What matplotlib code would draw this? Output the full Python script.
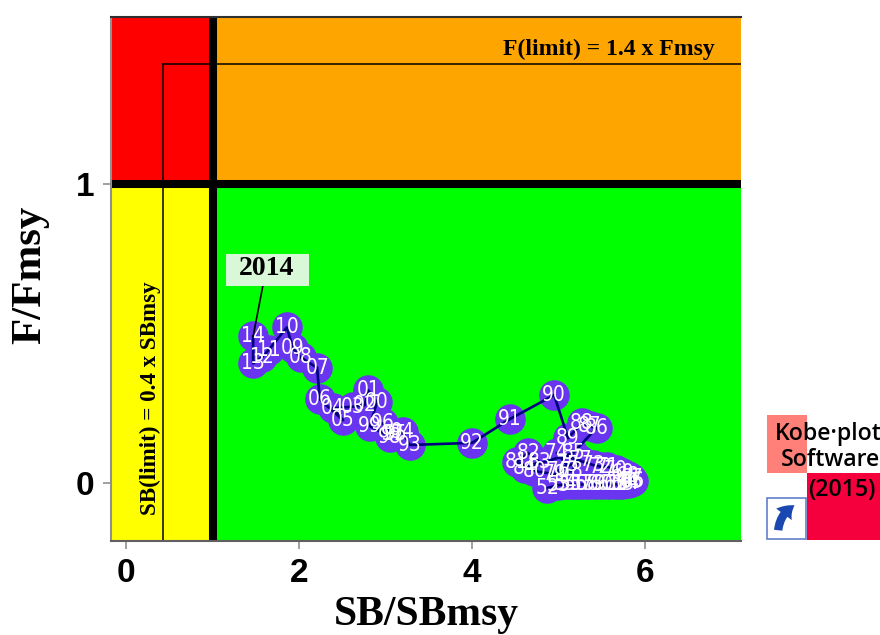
import matplotlib
matplotlib.use("Agg")
import matplotlib.pyplot as plt
from matplotlib.patches import Rectangle, FancyArrowPatch

# stock status by year, 1952-2014
years = list(range(1952, 2015))
sb_ratio = [4.87, 5.00, 5.08, 5.14, 5.20, 5.27, 5.34, 5.42, 5.50, 5.58, 5.66,
            5.74, 5.80, 5.84, 5.86, 5.84, 5.80, 5.74, 5.66, 5.56, 5.48, 5.40,
            4.98, 5.10, 5.00, 5.25, 5.15, 4.95, 4.72, 4.52, 4.65, 4.78, 4.61,
            5.17, 5.44, 5.36, 5.27, 5.11, 4.95, 4.44, 4.00, 3.28, 3.20, 3.12,
            2.97, 3.08, 3.05, 2.82, 2.90, 2.80, 2.76, 2.62, 2.39, 2.51, 2.24,
            2.21, 2.02, 1.93, 1.86, 1.65, 1.57, 1.47, 1.47]
f_ratio = [-0.017, -0.007, -0.005, -0.005, -0.005, -0.005, -0.005, -0.005,
           -0.005, -0.005, -0.005, -0.002, 0.000, 0.002, 0.005, 0.015, 0.025,
           0.035, 0.045, 0.055, 0.055, 0.060, 0.100, 0.060, 0.040, 0.077,
           0.040, 0.030, 0.040, 0.070, 0.100, 0.070, 0.050, 0.100, 0.184,
           0.190, 0.200, 0.150, 0.294, 0.214, 0.134, 0.127, 0.170, 0.165,
           0.200, 0.165, 0.155, 0.190, 0.270, 0.310, 0.260, 0.255, 0.250,
           0.210, 0.280, 0.385, 0.420, 0.450, 0.520, 0.445, 0.420, 0.400, 0.490]
year_labels = ["%02d" % (y % 100) for y in years]

sb_limit = 0.43
f_limit = 1.4

plt.rcParams['font.family'] = ['Liberation Sans', 'DejaVu Sans']
serif = ['Liberation Serif', 'DejaVu Serif']

fig = plt.figure(figsize=(8.8, 6.35), dpi=100)
ax = fig.add_axes([111 / 880, 1 - 541 / 635, 630 / 880, 524 / 635])
ax.set_xlim(-0.173, 7.11)
ax.set_ylim(-0.194, 1.558)

# kobe quadrants
split = (1 + 0.194) / 1.752
ax.axvspan(-0.173, 1, ymin=0, ymax=split, color="#ffff00", lw=0, zorder=0)
ax.axvspan(1, 7.11, ymin=0, ymax=split, color="#00ff00", lw=0, zorder=0)
ax.axvspan(-0.173, 1, ymin=split, ymax=1, color="#ff0000", lw=0, zorder=0)
ax.axvspan(1, 7.11, ymin=split, ymax=1, color="#ffa500", lw=0, zorder=0)

ax.plot([sb_limit, sb_limit], [-0.194, f_limit], color="black", lw=1.1, zorder=1)
ax.plot([sb_limit, 7.11], [f_limit, f_limit], color="black", lw=1.1, zorder=1)
ax.axvline(1.005, color="black", lw=5.8, zorder=2)
ax.axhline(1, color="black", lw=5.8, zorder=2)

ax.text(6.81, 1.448, "F(limit) = 1.4 x Fmsy", family=serif, weight="bold", fontsize=17,
        ha="right", va="center", zorder=3)
ax.text(0.277, 0.284, "SB(limit) = 0.4 x SBmsy", family=serif, weight="bold", fontsize=16.6,
        rotation=90, ha="center", va="center", zorder=3)

ax.plot(sb_ratio, f_ratio, "o", color="#6a35f0", markersize=22, mew=0, zorder=4)
ax.plot(sb_ratio, f_ratio, "-", color="#000080", lw=1.9, zorder=5)
for x, y, lab in zip(sb_ratio, f_ratio, year_labels):
    ax.text(x, y, lab, family='DejaVu Sans', stretch='condensed', color="white", fontsize=15,
            ha="center", va="center", zorder=6)

# label of the last year
ax.plot([sb_ratio[-1], 1.62], [f_ratio[-1], 0.716], color="black", lw=1.2, zorder=6.5)
ax.add_patch(Rectangle((1.156, 0.659), 0.96, 0.107, fc="#d8f8d8", ec="none", zorder=6.8))
ax.text(1.62, 0.716, "2014", family=serif, weight="bold", fontsize=20,
        ha="center", va="center", zorder=7)

ax.set_xticks([0, 2, 4, 6])
ax.set_yticks([0, 1])
ax.tick_params(labelsize=24, width=1.2, length=6, color="#909090", pad=6)
for lab in ax.get_xticklabels() + ax.get_yticklabels():
    lab.set_fontweight("bold")
ax.set_xlabel("SB/SBmsy", family=serif, weight="bold", fontsize=30, labelpad=5)
ax.set_ylabel("F/Fmsy", family=serif, weight="bold", fontsize=31, labelpad=19, y=0.508)
ax.spines["left"].set_color("#909090")
ax.spines["right"].set_visible(False)
ax.spines["top"].set_color("#303030")
ax.spines["bottom"].set_color("#606060")
for s in ax.spines.values():
    s.set_linewidth(1.5)

# software logo, drawn in pixel coordinates
logo = fig.add_axes([0, 0, 1, 1], facecolor="none")
logo.set_xlim(0, 880)
logo.set_ylim(635, 0)
logo.axis("off")
logo.add_patch(Rectangle((767, 415), 40, 58, fc="#ff8078", ec="none"))
logo.add_patch(Rectangle((807, 473), 73, 67, fc="#f5003c", ec="none"))
logo.add_patch(Rectangle((767, 498), 39, 41, fc="white", ec="#6080c8", lw=1.2))
logo.add_patch(FancyArrowPatch((778, 533), (797, 504), connectionstyle="arc3,rad=-0.3",
                               arrowstyle="simple,head_width=14,head_length=10,tail_width=6",
                               fc="#1a48b0", ec="none"))
logo_font = ['Open Sans', 'DejaVu Sans']
logo.text(775, 434, "Kobe\u00b7plot", fontsize=16.7, family=logo_font,
          weight="semibold", va="center", ha="left", clip_on=True)
logo.text(781, 460, "Software", fontsize=16.7, family=logo_font,
          weight="semibold", va="center", ha="left", clip_on=True)
logo.text(808, 490, "(2015)", fontsize=16.7, family=logo_font,
          weight="semibold", va="center", ha="left", clip_on=True)

fig.savefig("out.png", dpi=100)
